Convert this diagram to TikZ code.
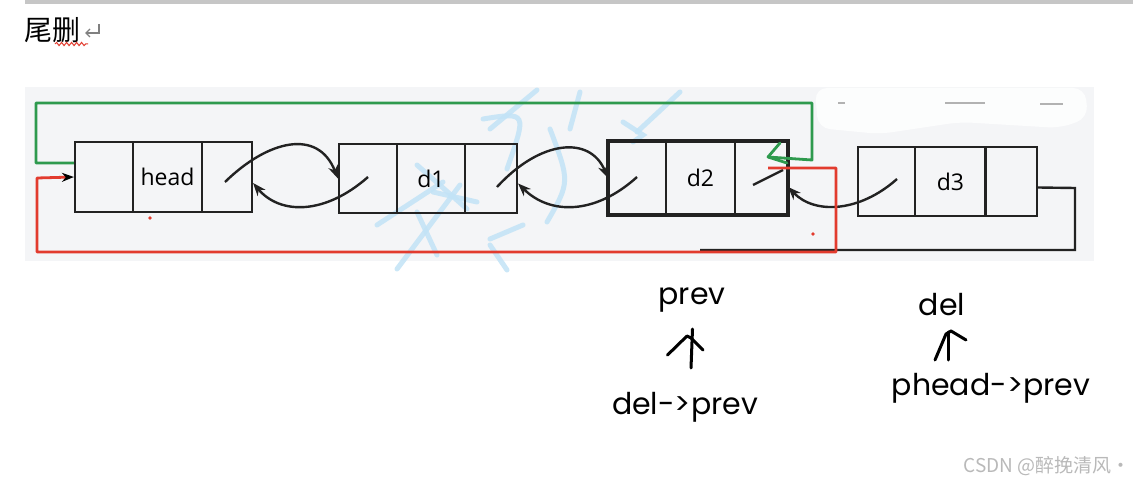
\documentclass[tikz,border=0pt]{standalone}
\usepackage{fontspec}
\usetikzlibrary{arrows.meta,decorations.pathmorphing,calc}
\newfontfamily\cjk{Noto Sans CJK SC}
\newfontfamily\labfont{Poppins}
\newfontfamily\nodefont{Open Sans}
\definecolor{panel}{HTML}{F4F5F7}
\definecolor{grn}{HTML}{2E9A4E}
\definecolor{rd}{HTML}{E23B2E}
\definecolor{wm}{HTML}{C2E3F6}
\definecolor{ink}{HTML}{222222}
\tikzset{
  cell/.style={draw=ink, line width=2.2pt, inner sep=0pt, minimum height=70pt, font=\nodefont\fontsize{23}{23}\selectfont},
  link/.style={draw=ink, line width=2.4pt, -{Stealth[length=13pt,width=10pt]}},
  greenpath/.style={draw=grn, line width=2.8pt},
  redpath/.style={draw=rd, line width=2.8pt},
  lab/.style={font=\labfont\fontsize{30}{30}\selectfont, inner sep=0pt},
  hand/.style={draw=black, line width=3pt, line cap=round, line join=round},
  wmstroke/.style={draw=wm, line width=5pt, line cap=round, opacity=0.85}
}
\begin{document}
\begin{tikzpicture}[x=1pt,y=-1pt]
\useasboundingbox (0,0) rectangle (1140,486);
\fill[white] (0,0) rectangle (1140,486);
% top bar
\fill[gray!45] (25,0) rectangle (1133,4);
% title
\node[anchor=west, inner sep=0pt, font=\cjk\fontsize{28}{28}\selectfont] (title) at (24,30) {尾删};
\draw[gray, line width=1.3pt] (99,24) -- (99,33) -- (86,33);
\draw[gray, line width=1.3pt] (90,29) -- (86,33) -- (90,37);
\draw[rd, line width=1pt, decorate, decoration={snake, amplitude=1.6pt, segment length=5pt}] (55,44) -- (88,44);
% panel
\fill[panel] (25,87) rectangle (1094,261);
% erased area top right
\fill[white, opacity=0.8, rounded corners=12pt] (815,88) -- (1085,88) -- (1088,118) -- (1060,128) -- (960,122) -- (880,134) -- (818,128) -- cycle;
\draw[gray!60, line width=1.2pt] (838,103) -- (845,103) (945,103) -- (985,103) (1040,104) -- (1063,104);
% watermark strokes
\draw[wmstroke] (537,90) -- (490,129);
\draw[wmstroke] (483,119) .. controls (527,112) .. (507,169);
\draw[wmstroke] (550,129) .. controls (570,182) .. (547,222);
\draw[wmstroke] (580,92) -- (570,129);
\draw[wmstroke] (680,92) -- (637,132);
\draw[wmstroke] (623,122) -- (643,135) -- (633,142);
\draw[wmstroke] (377,225) -- (443,182);
\draw[wmstroke] (397,269) -- (460,185);
\draw[wmstroke] (417,212) -- (437,255);
\draw[wmstroke] (433,192) -- (477,202);
\draw[wmstroke] (490,239) -- (523,225);
\draw[wmstroke] (490,245) -- (507,270);
\draw[wmstroke] (417,165) -- (467,209);
% list nodes
\node[cell, minimum width=58pt] (hp) at (104,177) {};
\node[cell, minimum width=69pt] (hd) at (167.5,177) {head};
\node[cell, minimum width=50pt] (hn) at (227,177) {};
\node[cell, minimum width=58pt, minimum height=69pt] (ap) at (368,178.5) {};
\node[cell, minimum width=68pt, minimum height=69pt] (ad) at (431,178.5) {d1};
\node[cell, minimum width=52pt, minimum height=69pt] (an) at (491,178.5) {};
\node[cell, minimum width=57pt, minimum height=72pt] (bp) at (637.5,178) {};
\node[cell, minimum width=69pt, minimum height=72pt] (bd) at (700.5,178) {d2};
\node[cell, minimum width=52pt, minimum height=72pt] (bn) at (761,178) {};
\draw[ink, line width=4pt] (bp.north west) rectangle (bn.south east);
\node[cell, minimum width=57pt, minimum height=69pt] (cp) at (886.5,181.5) {};
\node[cell, minimum width=71pt, minimum height=69pt] (cd) at (950.5,181.5) {d3};
\node[cell, minimum width=52pt, minimum height=69pt] (cn) at (1011,181.5) {};
% start points of pointers
\coordinate (s1) at (225,182);
\coordinate (s2) at (368,177);
\coordinate (s3) at (497,187);
\coordinate (s4) at (637,177);
\coordinate (s5) at (897,179);
\coordinate (s6) at (753,185);
\coordinate (e6) at (783,170);
% curved links
\draw[link] (s1) .. controls (268,140) and (318,128) .. (ap.west);
\draw[link] (s2) .. controls (325,215) and (280,215) .. ([yshift=-6pt]hn.east);
\draw[link] (s3) .. controls (540,140) and (590,135) .. (bp.west);
\draw[link] (s4) .. controls (595,215) and (550,215) .. ([yshift=-5pt]an.east);
\draw[link] (s5) .. controls (860,212) and (815,215) .. ([yshift=-9pt]bn.east);
\draw[ink, line width=2.4pt] (s6) -- (e6);
% black return from d3
\draw[ink, line width=2.4pt] ([yshift=-6pt]cn.east) -- (1075,188) -- (1075,250) -- (700,250);
% green: d2 -> head
\coordinate (g1) at (812,160);
\coordinate (g2) at (768,157);
\draw[greenpath, line join=round] ([yshift=14pt]hp.west) -- (36,163) -- (36,103) -- (812,103) -- (g1) -- (g2);
\draw[greenpath, line join=round, line cap=round] (780,143) -- (g2) -- (787,163);
% red: head.prev -> d2
\coordinate (r1) at (768,168);
\draw[redpath, line join=round, -{Stealth[length=12pt,width=9pt,black]}] (r1) -- (836,168) -- (836,252) -- (37,252) -- (37,178) -- (hp.west);
% red dots
\fill[rd] (150,218) circle (1.8pt);
\fill[rd] (813,234) circle (1.8pt);
% labels
\node[lab] (prev) at (692,300) {prev};
\node[lab] (delprev) at (685,407) {del->prev};
\node[lab] (del) at (942,305) {del};
\node[lab] (pheadprev) at (991,388) {phead->prev};
% hand-drawn arrows
\draw[hand] (691,368) -- (692.5,329);
\draw[hand] (667.5,355) -- (687,336) -- (691,338) -- (703,350);
\draw[hand] (948,360) -- (948,332);
\draw[hand] (935,360) -- (946,334) -- (951,331) -- (966,340);
% watermark
\node[anchor=east, inner sep=0pt, text=gray!55, font=\cjk\fontsize{19}{19}\selectfont] (csdn) at (1131,466) {CSDN @醉挽清风·};
\end{tikzpicture}
\end{document}
